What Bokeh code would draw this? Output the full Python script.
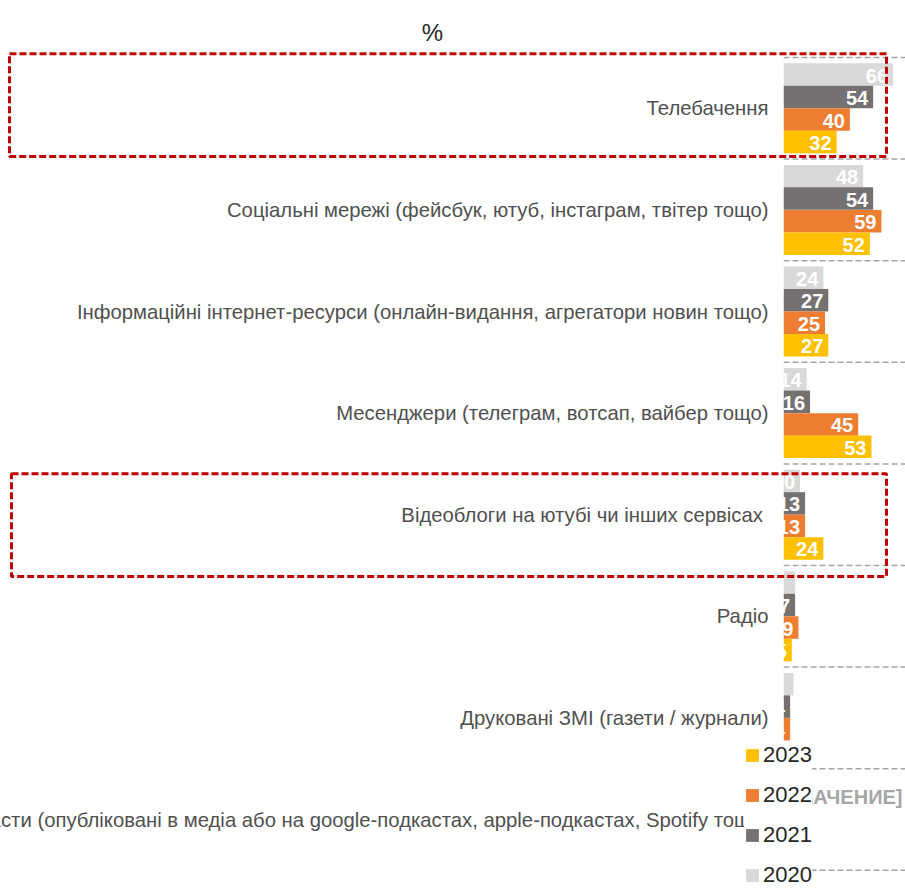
import math
from bokeh.plotting import figure
from bokeh.models import ColumnDataSource, Range1d, Legend, LegendItem, Label
from bokeh.core.properties import value
from bokeh.embed import file_html
from bokeh.resources import INLINE

# ---------------- data ----------------
categories = [
    "Телебачення",
    "Соціальні мережі (фейсбук, ютуб, інстаграм, твітер тощо)",
    "Інформаційні інтернет-ресурси (онлайн-видання, агрегатори новин тощо)",
    "Месенджери (телеграм, вотсап, вайбер тощо)",
    "Відеоблоги на ютубі  чи інших сервісах",
    "Радіо",
    "Друковані ЗМІ (газети / журнали)",
    "Подкасти (опубліковані в медіа або на google-подкастах, apple-подкастах, Spotify тощо)",
]
years = ["2020", "2021", "2022", "2023"]
nan = float("nan")
v2020 = [66, 48, 24, 14, 10, 7, 6, nan]
v2021 = [54, 54, 27, 16, 13, 7, 4, nan]
v2022 = [40, 59, 25, 45, 13, 9, 4, nan]
v2023 = [32, 52, 27, 53, 24, 5, nan, nan]
series = {"2020": v2020, "2021": v2021, "2022": v2022, "2023": v2023}
hidden_labels = [("Радіо", "2020"), ("Друковані ЗМІ (газети / журнали)", "2020")]
highlighted = [categories[0], categories[4]]
placeholder_text = "[ЗНАЧЕНИЕ]"
unit_text = "%"

# ---------------- style / layout ----------------
colors = {"2020": "#D9D9D9", "2021": "#767171", "2022": "#ED7D31", "2023": "#FFC000"}
FONT = "Liberation Sans"
W, H = 905, 889
X0_PX, PXU = 783.0, 1.66          # pixel of value 0, pixels per unit
Y0_PX, PITCH = 107.8, 101.6       # pixel of first category centre, category pitch
bar_offsets = {"2020": 0.332, "2021": 0.111, "2022": -0.111, "2023": -0.332}
BAR_H = 0.2215


def px_x(px):
    return (px - X0_PX) / PXU


def px_y(py):
    return -(py - Y0_PX) / PITCH


p = figure(width=W, height=H, output_backend="svg", toolbar_location=None,
           x_range=Range1d(px_x(0), px_x(W)), y_range=Range1d(px_y(H), px_y(0)),
           x_axis_type=None, y_axis_type=None, min_border=0)
p.title.visible = False
p.outline_line_color = None
p.background_fill_color = "white"
p.border_fill_color = "white"

ncat = len(categories)
cat_y = [-i for i in range(ncat)]

# separators between categories
sep_y = [c + 0.5 for c in cat_y] + [cat_y[-1] - 0.5]
p.segment(x0=[0] * len(sep_y), x1=[px_x(W)] * len(sep_y), y0=sep_y, y1=sep_y,
          line_color="#A6A6A6", line_width=1.5, line_dash="6 3")

# bars
renderers = {}
label_x, label_y, label_t = [], [], []
for yr in years:
    vals = series[yr]
    ys = [c + bar_offsets[yr] for c in cat_y]
    src = ColumnDataSource(dict(y=ys, right=vals))
    renderers[yr] = p.hbar(y="y", left=0, right="right", height=BAR_H, source=src,
                           fill_color=colors[yr], line_color=None)
    for cat, yy, v in zip(categories, ys, vals):
        if math.isnan(v) or (cat, yr) in hidden_labels:
            continue
        label_x.append(v)
        label_y.append(yy)
        label_t.append(str(int(v)))

p.text(x=label_x, y=label_y, text=label_t, text_align="right", text_baseline="middle",
       x_offset=-5, y_offset=1, text_color="white", text_font=value(FONT),
       text_font_style="bold", text_font_size="20px")

# white band: labels are cut at the value axis
p.quad(left=px_x(769), right=0, bottom=px_y(H), top=px_y(0),
       fill_color="white", line_color=None)

# category labels
p.text(x=[0] * ncat, y=cat_y, text=categories, text_align="right", text_baseline="middle",
       x_offset=-15, text_color="#505050", text_font=value(FONT), text_font_size="20.3px")

# placeholder label of the podcasts row
p.text(x=[px_x(902)], y=[cat_y[7] + 0.22], text=[placeholder_text], text_align="right",
       text_baseline="middle", text_color="#A6A6A6", text_font=value(FONT),
       text_font_style="bold", text_font_size="20px")

# red highlight boxes
box_left_px = [9, 11]
box_shift_px = [-3.1, 10.5]
box_half = 102.7 / 2 / PITCH
bl, br, bt, bb = [], [], [], []
for cat, lpx, spx in zip(highlighted, box_left_px, box_shift_px):
    c = cat_y[categories.index(cat)] - spx / PITCH
    bl.append(px_x(lpx))
    br.append(px_x(886))
    bt.append(c + box_half)
    bb.append(c - box_half)
p.quad(left=bl, right=br, top=bt, bottom=bb, fill_color=None,
       line_color="#C00000", line_width=3, line_dash="7 3")

# unit title
p.add_layout(Label(x=px_x(432), y=px_y(32), text=unit_text, text_align="center",
                   text_baseline="middle", text_font=FONT, text_font_size="24px",
                   text_color="#262626"))

legend = Legend(items=[LegendItem(label=yr, renderers=[renderers[yr]]) for yr in reversed(years)],
                location=(744, -0.5), glyph_width=16, glyph_height=16, label_standoff=3,
                spacing=11, padding=7, margin=0, label_height=29,
                label_text_font=FONT, label_text_font_size="22px",
                label_text_color="#262626", background_fill_color="white",
                background_fill_alpha=1.0, border_line_color=None)
p.add_layout(legend)

open("out.html", "w").write(file_html(p, INLINE))
